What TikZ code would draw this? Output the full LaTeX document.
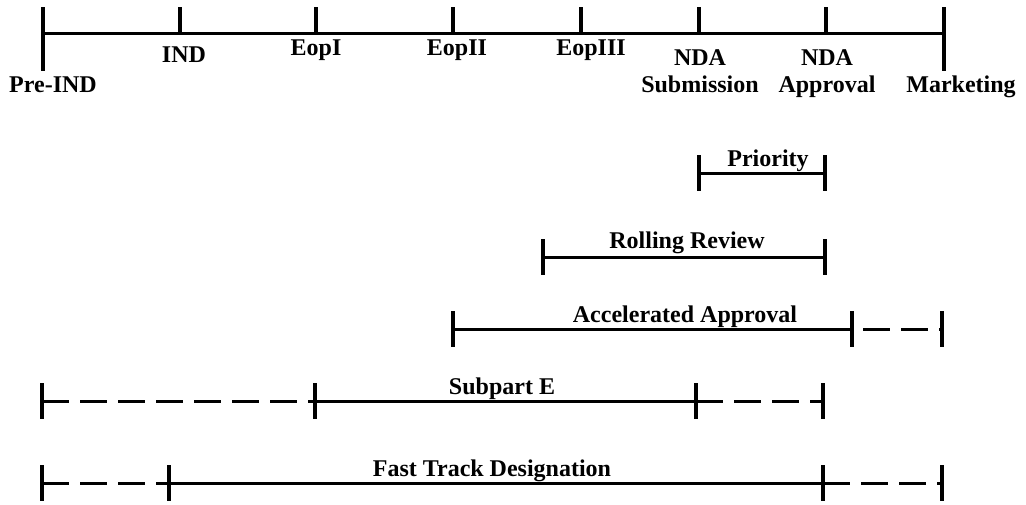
\documentclass[tikz,border=0pt]{standalone}
\usepackage{fontspec}
\setmainfont{Liberation Serif}
\usetikzlibrary{positioning}
\tikzset{
	lbl/.style={anchor=base, inner sep=0pt, align=center, font=\bfseries\fontsize{24}{27}\selectfont},
	rule/.style={line width=3pt},
	gap/.style={line width=3pt, dash pattern=on 27pt off 11pt},
	% vertical stop marks
	stop/.style={line width=3.5pt},
}

\begin{document}
\begin{tikzpicture}[x=1pt, y=-1pt]
			\useasboundingbox (0,0) rectangle (1026,504);
			
			% time axis
			\coordinate (preind) at (43,33);
			\coordinate (ind) at (180,33);
			\coordinate (eopi) at (316,33);
			\coordinate (eopii) at (453,33);
			\coordinate (eopiii) at (581,33);
			\coordinate (ndasub) at (699,33);
			\coordinate (ndaapp) at (826,33);
			\coordinate (market) at (944,33);
			
			\node (lpreind) [lbl] at (53,92) {Pre-IND};
			\node (lind) [lbl] at (184,62) {IND};
			\node (leopi) [lbl] at (316,55) {EopI};
			\node (leopii) [lbl] at (457,55) {EopII};
			\node (leopiii) [lbl] at (591,55) {EopIII};
			\node (lndasub) [lbl] at (700,92) {NDA\\Submission};
			\node (lndaapp) [lbl] at (827,92) {NDA\\Approval};
			\node (lmarket) [lbl] at (961,92) {Marketing};
			
			\draw[rule] (preind) -- (market);
			\foreach \c in {ind, eopi, eopii, eopiii, ndasub, ndaapp}
				\draw[stop] (\c) -- ([yshift=26pt]\c);
			\foreach \c in {preind, market}
				\draw[stop] ([yshift=26pt]\c) -- ([yshift=-38pt]\c);
			
			% Priority
			\coordinate (pr1) at (699,173);
			\coordinate (pr2) at (825,173);
			\draw[rule] (pr1) -- (pr2);
			\node (lpr) [lbl] at (768,166) {Priority};
			
			% Rolling Review
			\coordinate (rr1) at (543,257);
			\coordinate (rr2) at (825,257);
			\draw[rule] (rr1) -- (rr2);
			\node (lrr) [lbl] at (687,248) {Rolling Review};
			
			% Accelerated Approval
			\coordinate (aa1) at (453,329);
			\coordinate (aa2) at (852,329);
			\coordinate (aa3) at (942,329);
			\draw[rule] (aa1) -- (aa2);
			\draw[gap, dash phase=27pt] (aa2) -- (aa3);
			\node (laa) [lbl] at (685,322) {Accelerated Approval};
			
			% Subpart E
			\coordinate (se1) at (42,401);
			\coordinate (se2) at (315,401);
			\coordinate (se3) at (696,401);
			\coordinate (se4) at (823,401);
			\draw[gap] (se1) -- (se2);
			\draw[rule] (se2) -- (se3);
			\draw[gap] (se3) -- (se4);
			\node (lse) [lbl] at (502,394) {Subpart E};
			
			% Fast Track
			\coordinate (ft1) at (42,483);
			\coordinate (ft2) at (169,483);
			\coordinate (ft3) at (823,483);
			\coordinate (ft4) at (942,483);
			\draw[gap] (ft1) -- (ft2);
			\draw[rule] (ft2) -- (ft3);
			\draw[gap] (ft3) -- (ft4);
			\node (lft) [lbl] at (492,476) {Fast Track Designation};
			
			\foreach \c in {pr1, pr2, rr1, rr2, aa1, aa2, aa3, se1, se2, se3, se4, ft1, ft2, ft3, ft4}
				\draw[stop] ([yshift=18pt]\c) -- ([yshift=-18pt]\c);
		\end{tikzpicture}
\end{document}
